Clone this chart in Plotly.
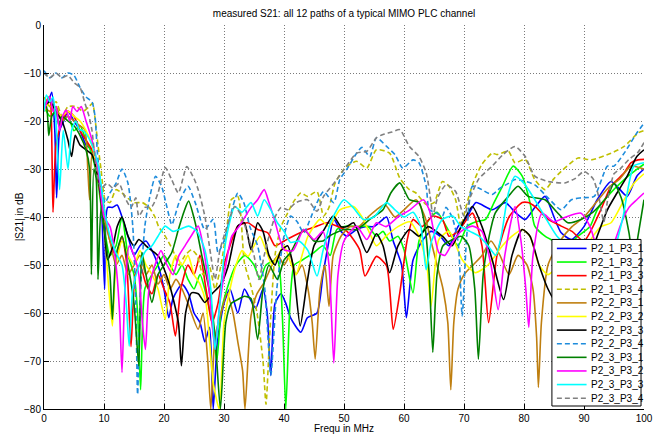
import plotly.graph_objects as go

# ---------------- data: (frequency in MHz, |S21| in dB) ----------------
P2_1_P3_1 = [(0,-17),(0.7,-16),(1.3,-14),(1.8,-22),(2.1,-36),(2.6,-22),(3.3,-20),(4,-18),(5,-20),(6,-22),(7,-25),(8,-26),(9,-31),(9.6,-38),(10.1,-55),(10.6,-38),(11.4,-38),(12.2,-37.5),(13,-40),(14,-44),(15,-48),(16,-46),(17,-45),(18,-47),(19,-50),(20,-55),(20.8,-61),(21.5,-57),(23,-54),(24.1,-56),(25,-60),(26,-62),(26.8,-66),(27.6,-63),(28.2,-80),(28.9,-66),(30,-58),(31,-55),(32.3,-60),(33.4,-55),(34.3,-57),(35.3,-59),(36.5,-55),(37.2,-60),(37.8,-73),(38.5,-58),(39.5,-56),(40.3,-58),(41.1,-61),(42.8,-64),(43.9,-61),(45.5,-60),(46.5,-52),(47.2,-47),(48.3,-40.5),(49.5,-43),(50.5,-44),(52.1,-42.6),(53.5,-42),(55,-42),(56,-41),(57.1,-40),(58.2,-45),(59.6,-50),(60.4,-61),(61.5,-49),(63,-45),(64.5,-43),(66,-44),(67.5,-46),(69,-42),(70.5,-40),(72,-37),(74.7,-38.5),(76.9,-37),(78.5,-39),(80.2,-40.5),(81.8,-38),(83.5,-35.7),(85,-40),(86.2,-43.3),(87.9,-44.7),(90,-42),(92.2,-36.4),(94.5,-32.6),(95.5,-33.6),(97.2,-35.7),(98.8,-31.5),(100,-30)]
P2_1_P3_2 = [(0,-17),(1,-19),(2,-18),(3,-20),(4,-19),(5,-22),(6,-21),(7,-24),(8,-27),(9,-33),(10,-42),(11,-48),(12,-46),(13,-40),(14,-48),(15,-52),(15.6,-60),(16.1,-76),(16.8,-55),(18,-52),(19,-50),(20,-48),(21,-50),(22,-52),(23,-50),(24,-53),(25,-55),(26,-52),(27,-56),(28,-62),(28.8,-70),(29.5,-60),(30.5,-55),(32,-50),(33.5,-48),(35,-50),(36,-53),(37,-50),(38.9,-49),(39.7,-60),(40.3,-80),(41,-58),(41.7,-50),(43,-49),(45,-47.4),(46.5,-46),(47.7,-48),(48.8,-42.6),(50.5,-41.9),(52,-42),(54,-42),(55.4,-44),(56.5,-43),(57.6,-45),(59,-44),(60,-46.8),(61.5,-55.8),(62.5,-45),(64.2,-40.5),(65.5,-39),(67.5,-43),(69,-46),(70.5,-42),(72,-41),(73.6,-40.5),(75,-37),(76.4,-33.6),(78.2,-29.4),(79.7,-31.5),(81,-37),(81.8,-41.9),(83.5,-44),(85,-45),(87,-46),(89,-44),(91,-42),(92.2,-38.5),(93.9,-35.7),(96.7,-32.2),(98.8,-30.1),(100,-29)]
P2_1_P3_3 = [(0,-17),(0.8,-15),(1.1,-16),(1.5,-39),(2,-25),(3,-20),(4,-18),(5,-19),(6,-22),(7,-24),(8,-26),(9,-30),(10,-38),(11,-45),(12,-48),(13,-44),(13.8,-50),(14.5,-67),(15.2,-52),(16,-50),(17,-54),(18,-56),(19,-52),(20,-55),(21,-58),(21.9,-64.8),(22.8,-55),(24,-50),(25,-52),(26,-48),(27,-55),(28,-62),(29,-58),(30,-50),(31,-46),(32.3,-41.9),(34,-41.2),(35.6,-42.6),(37.3,-43.3),(38.5,-46),(40,-45),(41.5,-44),(43.9,-42.6),(45.5,-41.9),(47.2,-41.2),(49,-42),(50.5,-43),(52.6,-46.8),(53.5,-52.3),(55.4,-48.2),(57.1,-50.2),(58.2,-63.4),(59.3,-55.8),(60.5,-45),(61.5,-40.5),(63,-42),(64.8,-39.8),(66.4,-40.5),(67.5,-44),(69,-43),(71.4,-39.2),(73,-46),(74.1,-62),(75.5,-48),(77.5,-40),(79.7,-37),(80.7,-37),(82,-38),(84,-40.5),(86.2,-41.9),(88,-43),(90,-45),(92.8,-38.5),(94.5,-33.6),(96.7,-30.8),(97.8,-28.7),(99,-28.1),(100,-28)]
P2_1_P3_4 = [(0,-15),(1,-17),(2,-16),(3,-19),(4,-17),(5.4,-17),(6.5,-18),(7.5,-17),(8.1,-16.3),(8.4,-18.4),(9,-25),(9.5,-30),(10.2,-36.4),(11,-37),(12,-34.3),(13,-35),(13.6,-35.7),(15,-37),(16.4,-37),(17.5,-38),(18.5,-40),(19.1,-42),(20.2,-44),(21.5,-47),(22.5,-50),(23.5,-48),(24.6,-46.8),(25.5,-48),(26.5,-52),(27.5,-50),(28.5,-55),(29.5,-50),(30.5,-42),(31.2,-36.4),(32.3,-35.7),(33.4,-49.5),(34.5,-54.4),(35.5,-60),(36.5,-70),(37,-79),(37.6,-65),(38.5,-48),(39.5,-42),(40.6,-39.2),(41.5,-37),(42.8,-35),(43.9,-35.7),(45.5,-34.7),(46.6,-39.8),(47.5,-38),(48.5,-33),(50,-30),(51,-29),(52.1,-28.4),(53.8,-29.8),(55.4,-26),(57.6,-26.7),(59.3,-31.9),(60.9,-34.3),(62,-35),(63.7,-37.4),(65,-37),(66.4,-32.6),(67.5,-33.6),(68.6,-36.4),(69.5,-42),(70.3,-38),(71.5,-33),(73,-29),(74.7,-26.7),(75.5,-27),(77.4,-26.3),(78.5,-28.7),(80.2,-28),(81.8,-32.2),(83.5,-34.3),(85,-32),(86.2,-30.5),(89,-27.7),(91.2,-28.1),(94.5,-26.7),(96.7,-25.3),(99,-22.5),(100,-22)]
P2_2_P3_1 = [(0,-17),(1,-18),(2,-17),(3,-20),(4,-19),(5,-20),(6,-21),(6.8,-21.8),(7.3,-30),(7.6,-36.4),(8,-27),(8.5,-28),(9,-32),(10,-40),(11,-45),(12,-50),(13,-48),(14,-52),(15,-50),(16,-48),(17,-52),(18,-50),(19,-54),(20,-52),(21,-55),(22,-53),(23,-55),(24,-58),(25.7,-63.4),(26.5,-60),(27.3,-70),(27.8,-80),(28.5,-65),(29.5,-60),(30.5,-56),(31.5,-60),(32.3,-66),(33.1,-72),(33.5,-80),(34.5,-60.6),(35.5,-56),(36.7,-53.6),(38,-50),(39,-48),(40,-50),(41,-48),(42,-52),(43,-50),(44,-55),(44.7,-62),(45.2,-69.6),(46,-55),(46.8,-50),(47.5,-58.6),(48.2,-48),(49.5,-44),(51,-42),(52.5,-42),(54,-40),(55.4,-38.5),(56.8,-37.4),(58.5,-40),(60,-38.5),(62,-36.4),(63.5,-40),(64.5,-45),(65.5,-50),(66.5,-55),(67.3,-62),(67.8,-76),(68.3,-62),(69,-55),(70,-52),(71.5,-50),(73,-48),(74.5,-45),(76,-48),(77.5,-52),(79,-48),(80.5,-50),(81.5,-55),(82.1,-65),(82.4,-75.5),(82.9,-62),(84,-50),(86,-45),(88,-42),(90,-40),(92,-37),(94,-34),(96,-32),(97.8,-29.4),(100,-30)]
P2_2_P3_2 = [(0,-18),(1,-16),(2,-18),(3,-19),(4,-18),(5,-19),(6,-20),(7,-22),(8,-25),(9,-32),(10,-42),(10.8,-55),(11.4,-62.7),(12,-50),(13,-45),(14,-48),(15,-50),(16,-47),(17,-50),(18,-52),(19,-55),(20.2,-61.3),(21,-52),(22,-48),(23,-50),(24,-48),(25,-52),(26,-54),(27,-58),(28.2,-74.5),(29.2,-80),(30,-62),(31,-55),(32,-50),(33,-47),(34,-48.2),(35,-46),(36,-44),(37,-47),(38,-50),(39,-48),(40,-46),(41.1,-49.5),(42,-52),(43,-48),(44,-44),(46,-40.5),(47.5,-42),(49.3,-38.5),(51.6,-37.8),(53,-40),(54.5,-44),(55.4,-46),(57,-44),(59,-42),(61,-41),(62.5,-44),(63.8,-50),(64.5,-58.6),(65.2,-50),(65.8,-44.7),(67.5,-43),(69.7,-48.9),(71.9,-51.6),(74,-50),(76.4,-46),(78,-44),(79.7,-42.6),(81,-44),(82.5,-50),(84,-52),(86,-50),(88,-48),(90,-47),(91.5,-44),(92.8,-42),(94.5,-41.2),(96.7,-36.4),(98.3,-33),(100,-31)]
P2_2_P3_3 = [(0,-17),(1,-16),(2,-18),(3,-20),(4,-24),(4.6,-27.4),(5.2,-23),(6,-25),(7,-26),(8,-27),(9,-32),(10,-42),(10.6,-48.9),(11.5,-46),(12.2,-42),(13,-40),(14,-44),(15,-46),(15.8,-44.7),(17,-46),(18,-47),(19.1,-48.2),(20.8,-53.6),(22.4,-62),(22.9,-71),(23.6,-60),(24.6,-55.8),(25.7,-56),(26.8,-57.8),(28,-56),(29.5,-54),(30.7,-50.2),(32.3,-41.9),(33.4,-41.2),(34.5,-46.8),(35.6,-41.2),(36.5,-43),(37.5,-48),(38.5,-50),(39.5,-47),(40.6,-46),(41.5,-50),(42.7,-62.7),(43.8,-54),(45,-46),(46.5,-43),(48.2,-39.8),(49.5,-42),(50.5,-42),(51.6,-41.2),(53.8,-47.4),(55.4,-43.5),(56.5,-46),(57.6,-51.6),(59,-46),(60.9,-42.6),(62.5,-44),(64,-42),(66.4,-44),(68,-46),(69.5,-42),(71.4,-37.8),(73,-42),(74.7,-48.9),(76.6,-57.2),(78,-48),(79.7,-42.6),(81,-44),(82.5,-50),(84,-55),(85.5,-58),(87,-53),(89,-50),(91,-48),(92.2,-44),(93.9,-38.5),(95.5,-35),(97.2,-31.5),(98.8,-27.4),(100,-26)]
P2_2_P3_4 = [(0,-9.5),(1,-11),(2,-10),(3,-11),(4,-10),(5,-10.5),(6,-13),(7,-15),(8,-16),(8.5,-19),(8.9,-26.6),(9.5,-33.6),(10.2,-37),(11,-35),(12,-33),(13,-30),(14,-33),(14.8,-42),(15.3,-58),(15.6,-77),(16.1,-55),(16.8,-42),(17.6,-36),(18.6,-31.5),(19.6,-33.6),(20.5,-38),(21.3,-41.6),(22.5,-37),(24,-33.6),(25.2,-37),(26.8,-42.6),(28.2,-40.5),(29,-47.4),(30,-45),(31,-40),(32.3,-35),(33.3,-37),(34.3,-42),(35.6,-46),(36.8,-55),(37.8,-73),(38.8,-55),(40,-44),(41.1,-39.8),(42.2,-41),(43.3,-43.3),(44.5,-40),(45.5,-37),(46.6,-34.7),(48.3,-37),(49.3,-32.2),(50.5,-30),(52.1,-26.7),(53,-25.5),(54.3,-27.4),(55.4,-23.5),(57.1,-25.3),(58.5,-27),(59.8,-29.8),(61.5,-28.1),(62.5,-28.7),(63.7,-33.6),(64.2,-38.5),(65.2,-39),(66.4,-39.8),(67,-38),(68,-40),(69,-45),(69.7,-60.6),(70.4,-45),(71.4,-33.6),(72.5,-34),(74.7,-35.3),(76,-34),(77.4,-33),(78.5,-32.2),(80,-32.5),(81.8,-33.3),(84,-36),(86.2,-38.5),(87.9,-36.4),(89.6,-36),(91.7,-35.7),(93.9,-29.4),(95,-29.4),(96.7,-26.7),(98.8,-22.5),(100,-20.5)]
P2_3_P3_1 = [(0,-17),(0.4,-17),(0.8,-23),(1.3,-19),(2,-18),(2.5,-21),(3,-19),(4,-20),(5,-21),(6,-23),(7,-26),(7.6,-30),(7.9,-52),(8.3,-30),(8.7,-32),(9,-53),(9.5,-38),(10.2,-44),(11,-52),(11.4,-61.3),(12,-48),(13,-44),(14,-50),(15,-58),(15.8,-71),(16.3,-47.4),(17,-52),(18,-57.8),(19,-52),(20,-50),(21.3,-47.4),(22.4,-42.6),(23.3,-39),(24.1,-36.7),(25.2,-41.2),(26.3,-48),(27.5,-55),(28.5,-64.8),(29.4,-80),(30.3,-62),(31.2,-58),(32.3,-57.2),(33.4,-56.5),(34.5,-57),(35.6,-65.5),(36.5,-55),(37.5,-50),(38.9,-53),(40,-49),(41.1,-47.4),(43.3,-42.6),(45,-45),(46.5,-45),(47.5,-44),(50,-42.6),(52.1,-42.6),(54.3,-40.5),(56.5,-38.5),(57.8,-35),(59.3,-32.9),(60.9,-36.4),(62.5,-37),(63.5,-42),(64.2,-52),(64.8,-68.2),(65.5,-52),(66.5,-46),(68.1,-44.7),(69.5,-44),(70.8,-46),(71.8,-55),(72.4,-69.6),(73.2,-52),(74.2,-44),(75.2,-39.2),(77.4,-35.7),(79,-33.6),(80.7,-35.7),(83.5,-36.4),(85.5,-39),(87.3,-41.2),(89.5,-40.5),(91.5,-39),(93.9,-35.7),(95,-33),(96.2,-36),(97.5,-43.3),(98.3,-50),(99,-44),(100,-36.4)]
P2_3_P3_2 = [(0,-18),(0.5,-16),(1,-15),(1.5,-18),(2,-17),(2.6,-22),(3.1,-19),(3.7,-17.7),(4.3,-20),(4.8,-17),(5.5,-18),(6.2,-17),(7,-20),(8,-24),(9,-30),(10,-40),(11,-42),(12,-50),(12.6,-60),(13,-72.4),(13.5,-55),(14.2,-46),(15,-48),(15.8,-52),(16.4,-62),(16.9,-67.6),(17.5,-55),(18.5,-50),(19.5,-47),(20.5,-50),(21.5,-52),(22.5,-48),(23.5,-46),(24.5,-44),(25.7,-41.9),(26.5,-46),(27.5,-55),(28.5,-67.6),(29.3,-58),(30.3,-50),(31.3,-44),(32.5,-42),(33.5,-40),(34.5,-38),(35.6,-36.4),(36.7,-34.3),(37.5,-37),(38.4,-40.5),(40,-46.8),(41.5,-47),(43.3,-42.6),(45,-44.7),(46.5,-43),(47.5,-50),(48.3,-70.4),(49,-52),(50,-45),(52.1,-41.9),(53.8,-44.7),(55.4,-41.2),(57,-42),(59,-40),(61,-38.5),(63.2,-36.4),(64.2,-38.5),(65.8,-47.4),(66.8,-48),(68.1,-45.3),(69.5,-43),(71.4,-41.9),(73,-43),(74.5,-50),(75.7,-59.3),(76.8,-48),(78.5,-37.8),(79.5,-45),(80.3,-55),(80.8,-63),(81.5,-48),(83,-39.2),(85,-41),(87,-40),(89.5,-39.2),(91,-42),(92.5,-48.9),(93.5,-56),(94.5,-48),(96,-42),(97.5,-38),(98.8,-36.4),(100,-35)]
P2_3_P3_3 = [(0,-18),(0.4,-14.6),(1,-16),(1.5,-15),(2,-20),(2.6,-34.3),(3.2,-22),(4,-30),(4.6,-22),(5.3,-20),(5.9,-21.8),(6.5,-22),(7.2,-23),(8,-25),(9,-29),(10,-38),(11,-44),(12,-47.5),(13,-50),(13.7,-58),(14.2,-66.9),(14.8,-55),(15.8,-50.2),(17,-47),(18,-46),(19,-44),(20.2,-41.9),(21.5,-43),(22.8,-42.5),(24.1,-41.9),(25.5,-43),(26.8,-46.8),(27.8,-55),(28.5,-67.6),(29.3,-58),(30.3,-45),(31.8,-37.8),(33,-39),(34.5,-37),(35.6,-39.8),(36.7,-36.4),(37.8,-38.5),(38.9,-41.2),(40,-43),(41.1,-45.3),(42.5,-45),(44,-47),(45.5,-52.3),(46.5,-47),(47.8,-41),(50,-36.4),(51.5,-38),(53.2,-40.5),(55,-40),(57.1,-37),(58.5,-38.5),(60,-40),(61.5,-39),(62.8,-42),(63.7,-51),(64.6,-45),(66.4,-40.5),(68.1,-39.8),(69.5,-42),(71,-43),(72.5,-44),(74,-46),(75.3,-48),(76.2,-44),(77.4,-35),(78.5,-31.5),(80,-33),(81.8,-36.4),(83.5,-40),(85.5,-44),(87.5,-46),(89.5,-45),(91,-48),(92.5,-52),(94,-50),(95.5,-45),(96.5,-40),(98.3,-29.4),(100,-28.7)]
P2_3_P3_4 = [(0,-10),(1,-11),(2,-10),(3,-11),(4,-10.5),(5,-12),(6,-13),(6.8,-16.2),(7.5,-19),(8,-22),(8.7,-30),(9.5,-34),(10.5,-33),(11.5,-34),(12.5,-33),(13.5,-36),(14.5,-38),(15.3,-36),(15.8,-39.8),(16.8,-38),(18,-37.8),(19,-35),(20.2,-29.7),(21.2,-32),(22.4,-35),(23.8,-29.5),(25,-32),(25.7,-34.3),(26.8,-39.8),(27.8,-48),(28.5,-53),(29.3,-47),(30.5,-42),(31.8,-37.8),(33,-40),(34,-44),(35,-48),(35.8,-53),(36.7,-48),(37.5,-44),(38.5,-40),(39.5,-38),(40.6,-38.5),(42,-37),(43.9,-36.4),(45.5,-38.8),(46.6,-35.7),(48.8,-32.2),(50,-30.1),(52.1,-26.7),(53.8,-26.3),(55.4,-23.5),(56.5,-22.8),(58,-22.3),(59.3,-21.8),(60.9,-25.3),(62.5,-27.4),(63.7,-30.8),(64.5,-37),(64.8,-39.8),(65.6,-36),(67,-33.3),(68.6,-34.7),(70,-39.8),(71,-36),(72.5,-32),(74.7,-29.4),(76.5,-27),(78.5,-25.3),(80.2,-27.4),(81.8,-31.5),(84,-32.6),(86.8,-32.9),(88.5,-32),(90,-30.5),(91.5,-32),(92.5,-36),(93.3,-41),(94,-36),(95,-31),(96,-30),(97.5,-28),(99,-26.5),(100,-24.5)]

series_names = ["P2_1_P3_1", "P2_1_P3_2", "P2_1_P3_3", "P2_1_P3_4",
                "P2_2_P3_1", "P2_2_P3_2", "P2_2_P3_3", "P2_2_P3_4",
                "P2_3_P3_1", "P2_3_P3_2", "P2_3_P3_3", "P2_3_P3_4"]
series_data = [P2_1_P3_1, P2_1_P3_2, P2_1_P3_3, P2_1_P3_4,
               P2_2_P3_1, P2_2_P3_2, P2_2_P3_3, P2_2_P3_4,
               P2_3_P3_1, P2_3_P3_2, P2_3_P3_3, P2_3_P3_4]
x_ticks = [0, 10, 20, 30, 40, 50, 60, 70, 80, 90, 100]
y_ticks = [0, -10, -20, -30, -40, -50, -60, -70, -80]

# ---------------- style ----------------
colors = ["#0000FF", "#00FF00", "#FF0000", "#BFBF00",
          "#BF7F10", "#FFFF00", "#000000", "#1E8CDC",
          "#008000", "#FF00FF", "#00FFFF", "#808080"]
dashes = ["solid", "solid", "solid", "5px,3px",
          "solid", "solid", "solid", "5px,3px",
          "solid", "solid", "solid", "5px,3px"]
LW = 1.6
FONT = "Liberation Sans, Arial, Helvetica, sans-serif"

W, H = 665, 436
L, R, T, B = 44, 650, 25, 410   # plot area in pixels

def px_x(px):
    return (px - L) / (R - L)

def px_y(py):
    return (B - py) / (B - T)

fig = go.Figure()
for name, pts, c, d in zip(series_names, series_data, colors, dashes):
    fig.add_trace(go.Scatter(
        x=[p[0] for p in pts], y=[p[1] for p in pts], mode="lines", name=name,
        line=dict(color=c, width=LW, dash=d, shape="spline", smoothing=0.6),
        showlegend=False, hoverinfo="skip"))

# custom legend (MATLAB-like compact box)
shapes = [dict(type="rect", xref="paper", yref="paper", layer="above",
               x0=px_x(557), x1=px_x(647), y0=px_y(407), y1=px_y(240),
               fillcolor="white", line=dict(color="black", width=1))]
annotations = []
for i, (name, c, d) in enumerate(zip(series_names, colors, dashes)):
    yy = 249 + i * 13.65
    shapes.append(dict(type="line", xref="paper", yref="paper", layer="above",
                       x0=px_x(562), x1=px_x(592), y0=px_y(yy), y1=px_y(yy),
                       line=dict(color=c, width=LW, dash=d)))
    annotations.append(dict(xref="paper", yref="paper", x=px_x(594), y=px_y(yy),
                            xanchor="left", yanchor="middle", text=name, showarrow=False,
                            font=dict(family=FONT, size=10, color="black")))

annotations.append(dict(xref="paper", yref="paper", x=0.5, y=px_y(430),
                        xanchor="center", yanchor="middle", text="Frequ in MHz",
                        showarrow=False, font=dict(family=FONT, size=10, color="black")))
annotations.append(dict(xref="paper", yref="paper", x=px_x(19), y=0.5, textangle=-90,
                        xanchor="center", yanchor="middle", text="|S21| in dB",
                        showarrow=False, font=dict(family=FONT, size=10, color="black")))

fig.update_layout(
    width=W, height=H,
    margin=dict(l=L, r=W - R, t=T, b=H - B, pad=0),
    paper_bgcolor="white", plot_bgcolor="white",
    title=dict(text="measured S21: all 12 paths of a typical MIMO PLC channel",
               x=0.5, xref="paper", y=1 - 13 / H, yref="container",
               xanchor="center", yanchor="middle",
               font=dict(family=FONT, size=10, color="black")),
    showlegend=False,
    shapes=shapes, annotations=annotations,
)
axis_common = dict(showline=True, linecolor="black", linewidth=1, mirror=False,
                   ticks="inside", ticklen=5, tickcolor="black", tickwidth=1,
                   showgrid=True, gridcolor="#7a7a7a", gridwidth=1, griddash="1px,2px",
                   zeroline=False, tickfont=dict(family=FONT, size=10, color="black"))
fig.update_xaxes(range=[0, 100], tickvals=x_ticks, **axis_common)
fig.update_yaxes(range=[-80, 0], tickvals=y_ticks, **axis_common)

fig.write_html("out.html")
